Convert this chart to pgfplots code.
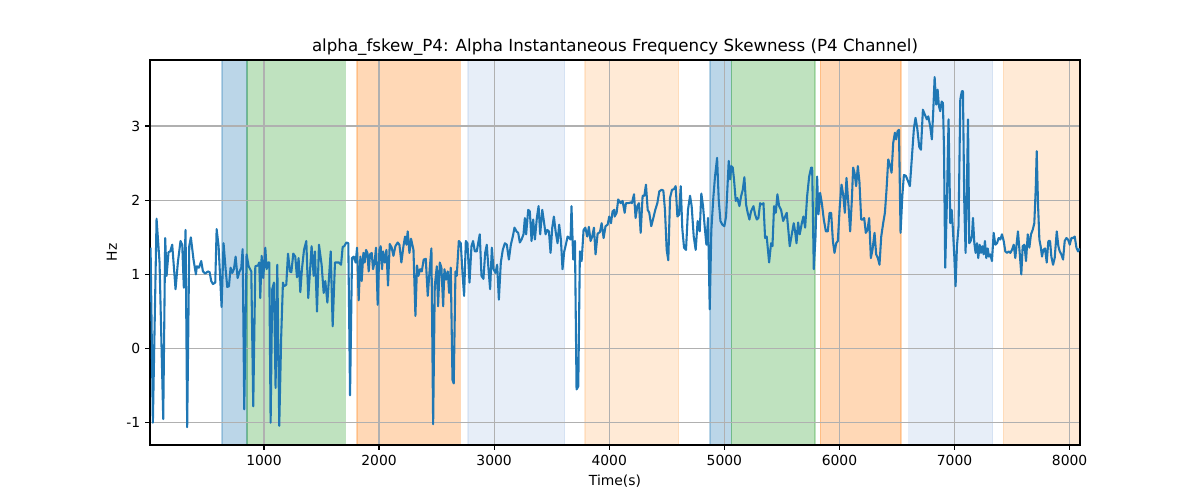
\documentclass[border=0pt]{standalone}
\usepackage{pgfplots}
\pgfplotsset{compat=1.18}
\usepackage{fontspec}
\setmainfont{DejaVu Sans}
\definecolor{tabblue}{HTML}{1F77B4}
\definecolor{taborange}{HTML}{FF7F0E}
\definecolor{tabgreen}{HTML}{2CA02C}
\definecolor{lblue}{HTML}{AEC7E8}
\definecolor{lorange}{HTML}{FFBB78}
\begin{document}
\begin{tikzpicture}
\begin{axis}[
  set layers,
  scale only axis,
  width=669.6pt, height=277.2pt,
  xmin=10, xmax=8090, ymin=-1.30, ymax=3.89,
  xtick={1000,2000,3000,4000,5000,6000,7000,8000},
  ytick={-1,0,1,2,3},
  /pgf/number format/assume math mode=true,
  /pgf/number format/set thousands separator={},
  tick align=outside, tick pos=left,
  major tick length=3.5pt,
  every tick/.style={black, line width=0.8pt},
  axis line style={black, line width=0.8pt},
  grid=major,
  grid style={color=black!31, line width=0.8pt},
  tick label style={font=\fontsize{10}{12}\selectfont},
  label style={font=\fontsize{10}{12}\selectfont},
  title style={font=\fontsize{12}{14}\selectfont, yshift=-6.5pt},
  title={alpha\_fskew\_P4: Alpha Instantaneous Frequency Skewness (P4 Channel)},
  xlabel={Time(s)}, ylabel={Hz},
]
% shaded spans
\addplot[on layer=axis background, fill=tabblue, fill opacity=0.3, draw=tabblue, draw opacity=0.3, line width=1pt] coordinates {(635,-1.3) (852,-1.3) (852,3.89) (635,3.89)} -- cycle;
\addplot[on layer=axis background, fill=tabgreen, fill opacity=0.3, draw=tabgreen, draw opacity=0.3, line width=1pt] coordinates {(852,-1.3) (1706,-1.3) (1706,3.89) (852,3.89)} -- cycle;
\addplot[on layer=axis background, fill=taborange, fill opacity=0.3, draw=taborange, draw opacity=0.3, line width=1pt] coordinates {(1807,-1.3) (2706,-1.3) (2706,3.89) (1807,3.89)} -- cycle;
\addplot[on layer=axis background, fill=lblue, fill opacity=0.3, draw=lblue, draw opacity=0.3, line width=1pt] coordinates {(2772,-1.3) (3612,-1.3) (3612,3.89) (2772,3.89)} -- cycle;
\addplot[on layer=axis background, fill=lorange, fill opacity=0.3, draw=lorange, draw opacity=0.3, line width=1pt] coordinates {(3790,-1.3) (4602,-1.3) (4602,3.89) (3790,3.89)} -- cycle;
\addplot[on layer=axis background, fill=tabblue, fill opacity=0.3, draw=tabblue, draw opacity=0.3, line width=1pt] coordinates {(4877,-1.3) (5061,-1.3) (5061,3.89) (4877,3.89)} -- cycle;
\addplot[on layer=axis background, fill=tabgreen, fill opacity=0.3, draw=tabgreen, draw opacity=0.3, line width=1pt] coordinates {(5061,-1.3) (5787,-1.3) (5787,3.89) (5061,3.89)} -- cycle;
\addplot[on layer=axis background, fill=taborange, fill opacity=0.3, draw=taborange, draw opacity=0.3, line width=1pt] coordinates {(5833,-1.3) (6535,-1.3) (6535,3.89) (5833,3.89)} -- cycle;
\addplot[on layer=axis background, fill=lblue, fill opacity=0.3, draw=lblue, draw opacity=0.3, line width=1pt] coordinates {(6600,-1.3) (7332,-1.3) (7332,3.89) (6600,3.89)} -- cycle;
\addplot[on layer=axis background, fill=lorange, fill opacity=0.3, draw=lorange, draw opacity=0.3, line width=1pt] coordinates {(7425,-1.3) (8090,-1.3) (8090,3.89) (7425,3.89)} -- cycle;
% signal
\addplot[tabblue, line width=1.5pt, line join=round, mark=none] coordinates {
(15,1.36)(35,-1.00)(67,1.75)(93,1.16)(125,-0.95)(142,1.49)(154,0.98)(171,1.30)(186,1.31)(203,1.40)
(232,0.80)(252,1.16)(275,1.45)(290,1.40)(304,0.82)(319,1.60)(333,-1.06)(351,1.38)(365,1.50)(388,1.20)
(409,1.00)(417,1.11)(435,1.09)(455,1.18)(470,1.04)(490,1.01)(513,1.04)(528,1.03)(542,0.91)(557,0.87)
(577,0.89)(589,1.61)(606,1.38)(632,0.56)(649,1.42)(667,1.07)(681,0.83)(696,0.84)(710,1.09)(725,1.02)
(739,1.07)(754,1.24)(771,0.95)(788,1.04)(803,1.09)(815,1.34)(829,-0.82)(849,1.27)(867,1.11)(890,1.04)
(907,-0.78)(925,1.11)(948,1.12)(959,1.16)(968,0.68)(980,1.25)(994,0.95)(1012,1.36)(1023,1.07)(1035,1.16)
(1046,1.16)(1058,-1.00)(1072,0.80)(1087,0.89)(1101,-0.53)(1116,1.13)(1133,-1.04)(1150,0.17)(1165,0.89)(1174,0.84)
(1194,0.86)(1209,1.28)(1226,1.04)(1238,1.03)(1255,1.28)(1272,1.24)(1287,0.96)(1301,1.22)(1316,0.76)(1330,1.07)
(1348,1.33)(1368,1.45)(1385,0.68)(1414,1.38)(1432,0.98)(1443,1.31)(1461,0.50)(1478,1.40)(1501,1.13)(1519,0.75)
(1533,0.91)(1551,0.62)(1580,1.31)(1597,0.30)(1617,1.16)(1635,1.16)(1652,1.16)(1670,1.13)(1684,1.37)(1698,1.38)
(1716,1.43)(1733,1.42)(1748,-0.63)(1765,1.22)(1780,1.24)(1797,1.16)(1809,1.36)(1823,0.65)(1838,1.24)(1849,0.91)
(1864,1.29)(1875,1.16)(1887,1.33)(1899,1.29)(1910,1.04)(1922,1.27)(1936,1.29)(1948,1.07)(1962,1.18)(1974,1.36)
(1988,0.59)(2003,1.33)(2014,1.38)(2026,1.07)(2035,1.31)(2049,1.16)(2064,1.33)(2078,0.85)(2093,1.41)(2110,1.36)
(2125,1.25)(2142,1.38)(2162,1.43)(2177,1.40)(2194,1.16)(2212,1.38)(2226,1.51)(2238,1.40)(2249,1.58)(2264,1.29)
(2278,1.48)(2299,1.33)(2316,0.44)(2330,1.12)(2342,0.98)(2357,1.07)(2371,1.04)(2388,1.20)(2406,1.21)(2423,0.71)
(2441,1.09)(2455,1.35)(2470,-1.02)(2484,0.84)(2502,1.11)(2513,0.57)(2528,1.16)(2542,1.09)(2557,0.57)(2568,1.07)
(2583,0.93)(2597,1.04)(2609,0.75)(2623,1.09)(2638,-0.42)(2649,-0.47)(2664,1.04)(2675,0.98)(2693,1.45)(2710,1.42)
(2725,1.02)(2739,0.71)(2754,1.45)(2768,1.42)(2786,0.89)(2803,1.38)(2817,1.45)(2832,1.31)(2849,1.31)(2861,1.42)
(2875,1.54)(2890,0.98)(2907,0.94)(2922,1.29)(2936,1.40)(2951,1.07)(2965,0.80)(2980,1.36)(2994,1.07)(3012,1.02)
(3026,1.13)(3041,0.66)(3058,1.16)(3075,1.33)(3093,1.42)(3110,1.40)(3128,1.20)(3145,1.40)(3162,1.51)(3177,1.63)
(3194,1.58)(3209,1.56)(3223,1.43)(3238,1.47)(3255,1.54)(3267,1.76)(3278,1.54)(3296,1.87)(3310,1.85)(3325,1.45)
(3339,1.74)(3354,1.47)(3371,1.76)(3386,1.92)(3400,1.54)(3418,1.87)(3432,1.72)(3447,1.54)(3461,1.60)(3476,1.58)
(3490,1.29)(3505,1.63)(3519,1.78)(3534,1.58)(3551,1.42)(3565,1.67)(3580,1.47)(3594,1.07)(3609,1.31)(3623,1.40)
(3638,1.51)(3652,1.49)(3664,1.47)(3672,1.92)(3687,1.20)(3702,1.45)(3716,-0.55)(3731,-0.51)(3745,1.31)(3760,1.18)
(3777,1.60)(3792,1.63)(3809,1.51)(3823,1.64)(3838,1.45)(3852,1.51)(3867,1.63)(3881,1.27)(3899,1.55)(3919,1.57)
(3934,1.69)(3951,1.49)(3968,1.65)(3986,1.67)(4000,1.78)(4015,1.69)(4029,1.85)(4044,1.87)(4047,1.78)(4064,1.83)
(4078,2.01)(4099,1.96)(4116,1.99)(4134,1.83)(4145,1.96)(4165,1.96)(4186,1.97)(4197,1.96)(4215,2.08)(4229,1.76)
(4244,1.92)(4258,1.96)(4273,1.56)(4290,2.06)(4305,2.06)(4319,2.21)(4334,1.87)(4348,1.83)(4365,1.65)(4383,1.76)
(4400,1.87)(4418,1.96)(4435,2.12)(4455,2.14)(4470,2.13)(4484,1.87)(4499,1.33)(4513,1.19)(4528,2.03)(4545,2.14)
(4563,2.15)(4577,2.19)(4592,1.78)(4606,1.80)(4621,2.19)(4635,1.61)(4650,1.36)(4667,1.33)(4684,1.87)(4702,2.06)
(4716,1.92)(4734,1.51)(4751,1.33)(4768,1.72)(4786,1.58)(4800,2.09)(4815,1.92)(4829,1.65)(4844,1.40)(4858,1.76)
(4873,0.53)(4887,1.60)(4905,2.05)(4919,2.32)(4937,2.57)(4951,2.01)(4966,1.72)(4983,1.67)(5000,1.65)(5015,1.78)
(5026,2.14)(5038,2.53)(5050,2.28)(5061,2.46)(5073,2.44)(5084,2.28)(5099,1.99)(5113,2.03)(5131,1.92)(5145,2.05)
(5160,2.14)(5174,2.31)(5189,1.94)(5203,1.83)(5218,1.74)(5232,1.85)(5253,1.92)(5267,1.81)(5282,1.74)(5296,1.76)
(5311,1.96)(5325,1.94)(5340,1.96)(5354,1.49)(5368,1.51)(5389,1.16)(5406,1.42)(5418,1.38)(5432,1.92)(5447,1.83)
(5461,2.08)(5476,1.92)(5493,1.87)(5511,1.72)(5528,1.78)(5542,1.83)(5557,1.58)(5568,1.38)(5586,1.54)(5603,1.69)
(5615,1.58)(5627,1.42)(5641,1.70)(5655,1.54)(5673,1.69)(5687,1.78)(5702,1.63)(5719,2.05)(5737,2.32)(5754,2.44)
(5763,2.44)(5777,1.07)(5792,1.51)(5806,2.32)(5818,1.81)(5832,2.10)(5847,1.96)(5864,1.74)(5882,1.58)(5899,1.58)
(5914,1.83)(5928,1.83)(5943,1.45)(5957,1.29)(5972,1.42)(5986,1.45)(6003,1.92)(6018,2.21)(6032,2.08)(6047,1.83)
(6061,2.30)(6079,1.92)(6093,1.58)(6108,2.01)(6119,2.44)(6131,2.37)(6145,2.19)(6160,2.46)(6174,2.24)(6189,1.74)
(6203,1.74)(6215,1.76)(6229,1.56)(6244,1.60)(6258,1.76)(6273,1.22)(6287,1.33)(6305,1.56)(6319,1.27)(6334,1.22)
(6348,1.13)(6363,1.51)(6380,1.69)(6395,1.83)(6409,2.14)(6424,2.55)(6438,2.48)(6453,2.37)(6467,2.77)(6482,2.91)
(6493,2.82)(6505,2.93)(6517,2.95)(6531,1.56)(6546,2.05)(6560,2.34)(6577,2.33)(6595,2.26)(6612,2.19)(6630,2.59)
(6647,2.97)(6661,3.11)(6676,2.97)(6693,2.72)(6708,2.68)(6725,3.22)(6743,3.15)(6760,3.09)(6772,3.13)(6789,2.99)
(6803,2.82)(6815,3.20)(6827,3.66)(6841,3.29)(6853,3.49)(6864,3.27)(6876,3.20)(6888,3.33)(6899,3.31)(6908,2.72)
(6919,1.09)(6934,2.01)(6948,3.09)(6963,1.69)(6975,1.87)(6986,1.60)(6998,1.24)(7009,0.84)(7021,1.38)(7035,1.65)
(7050,3.36)(7064,3.47)(7073,3.47)(7085,1.92)(7096,1.29)(7108,2.23)(7117,3.09)(7128,1.42)(7140,1.45)(7151,1.51)
(7160,1.76)(7172,1.42)(7183,1.29)(7195,1.42)(7206,1.22)(7218,1.40)(7230,1.29)(7241,1.38)(7253,1.27)(7264,1.45)
(7276,1.22)(7288,1.35)(7299,1.24)(7311,1.27)(7325,1.18)(7340,1.56)(7354,1.40)(7369,1.42)(7383,1.49)(7398,1.47)
(7412,1.54)(7427,1.45)(7441,1.31)(7456,1.29)(7470,1.31)(7485,1.29)(7499,1.33)(7514,1.40)(7528,1.22)(7540,1.42)
(7551,1.58)(7566,1.29)(7580,1.00)(7592,1.38)(7607,1.40)(7621,1.18)(7636,1.54)(7650,1.36)(7664,1.54)(7679,1.60)
(7693,1.69)(7705,2.14)(7714,2.66)(7725,1.96)(7737,1.47)(7748,1.38)(7760,1.24)(7771,1.33)(7786,1.35)(7801,1.16)
(7815,1.45)(7830,1.45)(7841,1.24)(7856,1.13)(7870,1.22)(7888,1.58)(7902,1.38)(7914,1.31)(7928,1.27)(7943,1.20)
(7957,1.45)(7972,1.49)(7986,1.47)(8001,1.40)(8015,1.49)(8030,1.49)(8044,1.51)(8059,1.36)(8073,1.31)(8088,1.35)
};
\end{axis}
\pgfresetboundingbox
\path[use as bounding box] (-108pt,-39.6pt) rectangle (756pt,320.4pt);
\end{tikzpicture}
\end{document}
